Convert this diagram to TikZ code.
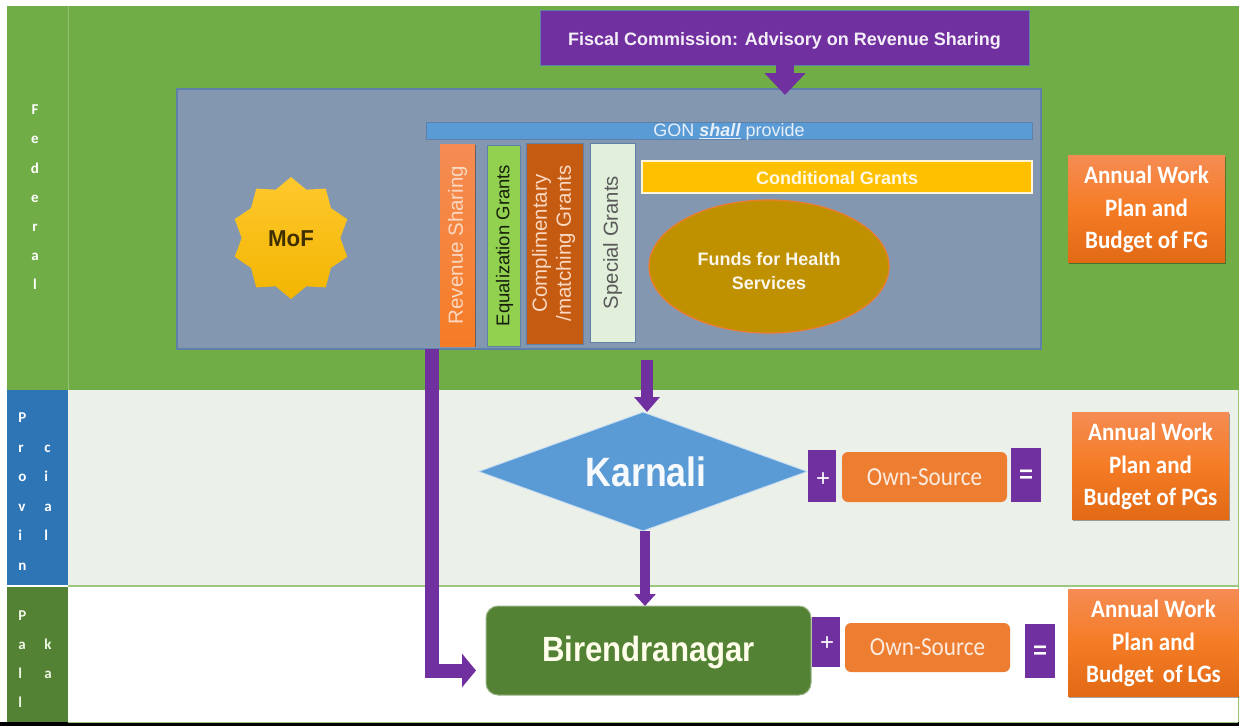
\documentclass[tikz,border=0pt]{standalone}
\usepackage{fontspec}
\setmainfont{Liberation Sans}
\newfontfamily\carl{Carlito}
\usetikzlibrary{shapes.geometric,arrows.meta,shadows,calc}
\definecolor{fedgreen}{HTML}{70AD47}
\definecolor{palgreen}{HTML}{548235}
\definecolor{provblue}{HTML}{2E75B6}
\definecolor{paleband}{HTML}{EBF0E9}
\definecolor{panelc}{HTML}{8497B0}
\definecolor{panelb}{HTML}{5F80A8}
\definecolor{purp}{HTML}{7030A0}
\definecolor{sky}{HTML}{5B9BD5}
\definecolor{orng}{HTML}{ED7D31}
\definecolor{orngtop}{HTML}{F58C54}
\definecolor{orngmid}{HTML}{F57C25}
\definecolor{orngbot}{HTML}{E36A15}
\definecolor{dkorng}{HTML}{C55A11}
\definecolor{lime}{HTML}{92D050}
\definecolor{palegr}{HTML}{E2EFDA}
\definecolor{amber}{HTML}{FFC000}
\definecolor{ambertop}{HTML}{FFC82E}
\definecolor{amberbot}{HTML}{F2B500}
\definecolor{mustard}{HTML}{BF9000}
\newcommand\fs[1]{\fontsize{#1}{#1}\selectfont}
\newcommand\nar[1]{\scalebox{.89}[1]{#1}}
\newcommand\dropby[2]{\raisebox{-#1pt}[\height][\depth]{#2}}
\newcommand\annualtxt[3]{\dropby{2.5}{\scalebox{.92}[1]{\begin{tabular}{@{}c@{}}#1\\[7.5pt]#2\\[7.5pt]#3\end{tabular}}}}
% name, x0,y0,x1,y1, style, text
\newcommand\bx[7]{%
  \pgfmathsetmacro\cxx{(#2+#4)/2}\pgfmathsetmacro\cyy{(#3+#5)/2}%
  \pgfmathsetmacro\wxx{#4-#2}\pgfmathsetmacro\hyy{#5-#3}%
  \node[flat,minimum width=\wxx pt,minimum height=\hyy pt,#6] (#1) at (\cxx,\cyy) {#7};}
\tikzset{
  flat/.style={rectangle,inner sep=0pt,outer sep=0pt,align=center},
  band/.style={fill=#1,draw=none},
  sidetxt/.style={text=white,font=\carl\bfseries\fs{15}},
  inpanel/.style={draw=panelb,line width=1pt},
  annual/.style={top color=orngtop,bottom color=orngbot,middle color=orngmid,text=white,
    font=\carl\fs{25}\bfseries,drop shadow={shadow xshift=1pt,shadow yshift=-2pt,opacity=.35,fill=black}},
  work/.style={fill=orng,rounded corners=6pt,text=white!85!orng,font=\carl\fs{26}},
  sign/.style={fill=purp,text=white,font=\fs{24}},
}
\begin{document}
\begin{tikzpicture}[x=1pt,y=-1pt]
\useasboundingbox (0,0) rectangle (1239,726);
\fill[white] (0,0) rectangle (1239,726);
% bands
\bx{fedband}{7}{6}{1239}{390}{band=fedgreen}{}
\bx{provside}{7}{390}{68}{585}{band=provblue}{}
\bx{provband}{68}{390}{1238}{585}{band=paleband}{}
\bx{palside}{7}{587}{68}{722}{band=palgreen}{}
\bx{blackline}{0}{722}{1239}{726}{band=black}{}
\draw[fedgreen!75!white,line width=1pt] (68,6) -- (68,390);
\draw[fedgreen!70!white,line width=2pt] (68,586) -- (1238,586);
\draw[fedgreen!70!white,line width=1pt] (68,722) -- (1238,722);
\draw[fedgreen!70!white,line width=1pt] (1238.5,390) -- (1238.5,722);
% side labels
\node[flat,sidetxt] (fedlabel) at (35,199) {\begin{tabular}{@{}c@{}}F\\[14pt]e\\[14pt]d\\[14pt]e\\[14pt]r\\[14pt]a\\[14pt]l\end{tabular}};
\node[flat,sidetxt] (provlabel) at (35,493.5) {\begin{tabular}{@{}p{13pt}@{\hskip 13pt}l@{}}P&\\[14.5pt]r&c\\[14.5pt]o&i\\[14.5pt]v&a\\[14.5pt]i&l\\[14.5pt]n&\end{tabular}};
\node[flat,sidetxt,text=white!85!lime] (pallabel) at (35,661) {\begin{tabular}{@{}p{13pt}@{\hskip 13pt}l@{}}P&\\[14pt]a&k\\[14pt]l&a\\[14pt]l&\end{tabular}};
% fiscal + panel
\bx{panel}{177}{89}{1041}{349}{fill=panelc,draw=panelb,line width=1.5pt}{}
\bx{fiscal}{540}{10}{1029}{65}{fill=purp,draw=panelb,line width=1pt,text=white!92!purp,font=\bfseries\fs{18}}{\dropby{3}{Fiscal Commission: Advisory on Revenue Sharing}}
\coordinate (fiscalout) at (785,65);
\coordinate (panelin) at (785,95);
\draw[draw=purp,line width=18pt,arrows={-Triangle[length=22pt,width=40pt]}] (fiscalout) -- (panelin);
% MoF
\node[star,star points=10,star point ratio=1.2,minimum size=122pt,inner sep=0pt,top color=ambertop,middle color=amber,bottom color=amberbot,draw=none,xscale=.97,font=\bfseries\fs{23},text=black!75!amber] (mof) at (291,238) {\dropby{1}{MoF}};
% panel content
\bx{gon}{426}{122}{1032}{139}{fill=sky,draw=panelb,line width=1pt,text=white!85!sky,font=\fs{18}}{\dropby{1}{GON \textbf{\textit{\underline{shall}}} provide}}
\bx{rev}{440}{144}{475}{346}{top color=orngtop,bottom color=orngmid,draw=none,text=white!70!orng,font=\fs{20.5},drop shadow={shadow xshift=1pt,shadow yshift=-1pt,opacity=.4,fill=black}}{\rotatebox{90}{Revenue Sharing}}
\bx{equal}{487}{145}{520}{346}{fill=lime,inpanel,text=black!85!lime,font=\fs{18.5}}{\hspace{2pt}\rotatebox{90}{Equalization Grants}}
\bx{comp}{526}{143}{583}{344}{fill=dkorng,inpanel,text=white!70!orng,font=\fs{20.5}}{\rotatebox{90}{\begin{tabular}{@{}c@{}}Complimentary\\[3pt]/matching Grants\end{tabular}}}
\bx{special}{590}{143}{635}{342}{fill=palegr,inpanel,text=black!65,font=\fs{20.3}}{\rotatebox{90}{Special Grants}}
\bx{cond}{642}{161}{1032}{193}{fill=amber,draw=white!85!amber,line width=2pt,text=white!90!amber,font=\bfseries\fs{18}}{\dropby{1}{Conditional Grants}}
\node[ellipse,minimum width=240pt,minimum height=133pt,inner sep=0pt,fill=mustard,draw=orng,line width=1.2pt,align=center,text=white!92!mustard,font=\bfseries\fs{18}] (funds) at (769,266.5) {\dropby{7}{\begin{tabular}{@{}c@{}}Funds for Health\\[6pt]Services\end{tabular}}};
\bx{afg}{1068}{155}{1225}{262}{annual}{\annualtxt{Annual Work}{Plan and}{Budget of FG}}
% provincial
\node[diamond,aspect=2.76,minimum width=329pt,minimum height=119pt,inner sep=0pt,outer sep=0pt,fill=sky,draw=white!70!sky,line width=1pt,text=white!95!sky,font=\bfseries\fs{41}] (karnali) at (643,471.5) {\hspace{6pt}\scalebox{.87}[1]{Karnali}};
\bx{plus1}{808}{450}{836}{502}{sign}{\dropby{4}{\hspace{2pt}+}}
\bx{own1}{842}{452}{1007}{502}{work}{\nar{Own-Source}}
\bx{eq1}{1011}{448}{1041}{502}{sign}{\dropby{1}{\textbf{=}}}
\bx{apg}{1072}{412}{1229}{519}{annual}{\annualtxt{Annual Work}{Plan and}{Budget of PGs}}
% palika
\bx{biren}{486}{606}{811}{695}{fill=palgreen,draw=palgreen!60!white,line width=1pt,rounded corners=12pt,text=white!92!yellow,font=\bfseries\fs{35}}{\dropby{2}{\scalebox{.89}[1]{Birendranagar}}}
\bx{plus2}{812}{617}{840}{667}{sign}{\dropby{2}{\hspace{2pt}+}}
\bx{own2}{845}{623}{1010}{672}{work}{\nar{Own-Source}}
\bx{eq2}{1025}{624}{1055}{678}{sign}{\dropby{1}{\textbf{=}}}
\bx{alg}{1068}{589}{1239}{696}{annual}{\annualtxt{Annual Work}{Plan and}{Budget\, of LGs}}
% flows
\coordinate (panelout) at (647,360);
\draw[draw=purp,line width=12pt,arrows={-Triangle[length=15pt,width=25pt]}] (panelout) -- (karnali.north -| panelout);
\coordinate (birenin) at ($(biren.north)+(-3.5,0)$);
\draw[draw=purp,line width=10pt,arrows={-Triangle[length=12pt,width=21pt]}] (karnali.south -| birenin) -- (birenin);
\coordinate (revout) at (431.5,349);
\coordinate (revturn) at (431.5,670.5);
\draw[draw=purp,line width=14pt,line join=miter,shorten >=10pt,arrows={-Triangle[length=14pt,width=33pt]}] (revout) -- (revturn) -- (revturn -| biren.west);
\end{tikzpicture}
\end{document}
